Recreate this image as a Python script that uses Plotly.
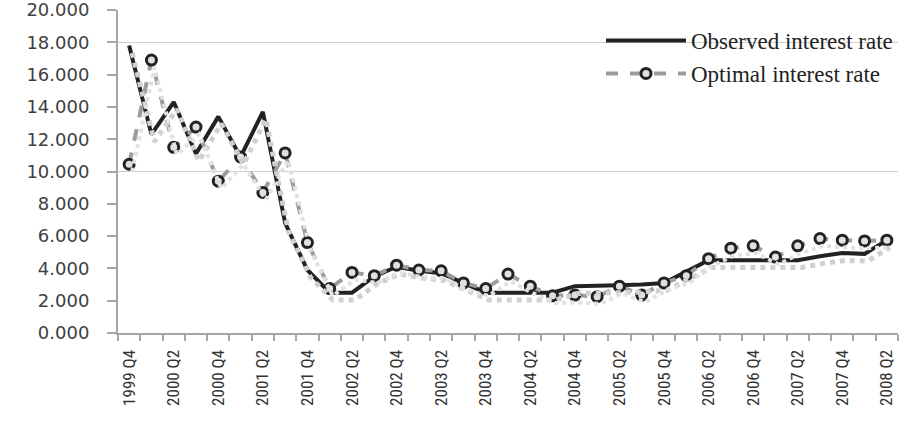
import plotly.graph_objects as go

# ---- data ----
quarters = ["1999 Q4", "2000 Q1", "2000 Q2", "2000 Q3", "2000 Q4", "2001 Q1", "2001 Q2", "2001 Q3",
            "2001 Q4", "2002 Q1", "2002 Q2", "2002 Q3", "2002 Q4", "2003 Q1", "2003 Q2", "2003 Q3",
            "2003 Q4", "2004 Q1", "2004 Q2", "2004 Q3", "2004 Q4", "2005 Q1", "2005 Q2", "2005 Q3",
            "2005 Q4", "2006 Q1", "2006 Q2", "2006 Q3", "2006 Q4", "2007 Q1", "2007 Q2", "2007 Q3",
            "2007 Q4", "2008 Q1", "2008 Q2"]
observed = [17.8, 12.3, 14.3, 11.1, 13.4, 10.9, 13.7, 6.8,
            3.9, 2.5, 2.5, 3.5, 4.1, 3.85, 3.7, 3.1,
            2.5, 2.5, 2.5, 2.5, 2.9, 2.9, 2.95, 3.0,
            3.1, 3.8, 4.5, 4.5, 4.5, 4.5, 4.5, 4.75,
            4.95, 4.9, 5.75]
optimal = [10.45, 16.9, 11.5, 12.75, 9.4, 10.9, 8.7, 11.15,
           5.6, 2.75, 3.75, 3.55, 4.2, 3.9, 3.85, 3.1,
           2.75, 3.65, 2.9, 2.3, 2.35, 2.25, 2.9, 2.35,
           3.1, 3.55, 4.6, 5.25, 5.4, 4.7, 5.4, 5.85,
           5.75, 5.7, 5.75]
tick_labels = [q if i % 2 == 0 else "" for i, q in enumerate(quarters)]
y_ticks = [0, 2, 4, 6, 8, 10, 12, 14, 16, 18, 20]
grid_values = [10, 18]

fig = go.Figure()

# faint stippled shadow (drawn on offset overlay axes)
fig.add_trace(go.Scatter(x=quarters, y=observed, xaxis="x2", yaxis="y2", mode="lines",
                         line=dict(color="#d0d0d0", width=5, dash="dot"),
                         showlegend=False, hoverinfo="skip"))
fig.add_trace(go.Scatter(x=quarters, y=optimal, xaxis="x2", yaxis="y2", mode="lines",
                         line=dict(color="#e2e2e2", width=4, dash="dot"),
                         showlegend=False, hoverinfo="skip"))

fig.add_trace(go.Scatter(x=quarters, y=observed, mode="lines", name="Observed interest rate",
                         line=dict(color="#222222", width=4)))
fig.add_trace(go.Scatter(x=quarters, y=optimal, mode="lines+markers", name="Optimal interest rate",
                         line=dict(color="#9c9c9c", width=4, dash="dash"),
                         marker=dict(symbol="circle", size=10, color="#e0e0e0",
                                     line=dict(color="#222222", width=3))))

n = len(quarters)
fig.update_layout(
    width=905, height=423,
    margin=dict(l=118, r=7, t=10, b=90, autoexpand=False),
    paper_bgcolor="white", plot_bgcolor="white",
    xaxis=dict(type="category", range=[-0.5, n - 0.5], tickmode="array", automargin=False,
               tickvals=quarters, ticktext=tick_labels, tickangle=-90,
               tickson="boundaries", ticks="outside", ticklen=6, tickwidth=2,
               tickcolor="#a6a6a6", showline=True, linecolor="#a6a6a6", linewidth=2,
               showgrid=False, zeroline=False, ticklabelstandoff=8,
               tickfont=dict(family="Liberation Sans Narrow, Roboto Condensed, Liberation Sans",
                             size=17, color="#333333")),
    yaxis=dict(range=[0, 20.002], tickmode="array", tickvals=y_ticks, automargin=False,
               ticktext=[f"{v:.3f}" for v in y_ticks], ticklabeloverflow="allow",
               ticks="outside", ticklen=9, tickwidth=2, tickcolor="#a6a6a6",
               showline=True, linecolor="#a6a6a6", linewidth=2, showgrid=False,
               zeroline=False, ticklabelstandoff=14,
               tickfont=dict(family="DejaVu Sans", size=18, color="#404040")),
    xaxis2=dict(type="category", overlaying="x", visible=False, automargin=False,
                range=[-0.5 - 3 / 22.3, n - 0.5 - 3 / 22.3]),
    yaxis2=dict(overlaying="y", visible=False, range=[0.45, 20.452], automargin=False),
    yaxis3=dict(overlaying="y", range=[0, 20.002], tickmode="array", tickvals=grid_values,
                showticklabels=False, showgrid=True, gridcolor="#cfcfcf", gridwidth=1,
                showline=False, zeroline=False, ticks="", automargin=False),
    legend=dict(x=1.0, xanchor="right", y=0.972, yanchor="top", bgcolor="rgba(0,0,0,0)",
                itemwidth=80, font=dict(family="Liberation Serif", size=23, color="#222222"),
                tracegroupgap=0),
    showlegend=True,
)
# dummy trace to activate grid axis
fig.add_trace(go.Scatter(x=[quarters[0]], y=[None], yaxis="y3", showlegend=False, hoverinfo="skip"))

fig.write_html("out.html")
